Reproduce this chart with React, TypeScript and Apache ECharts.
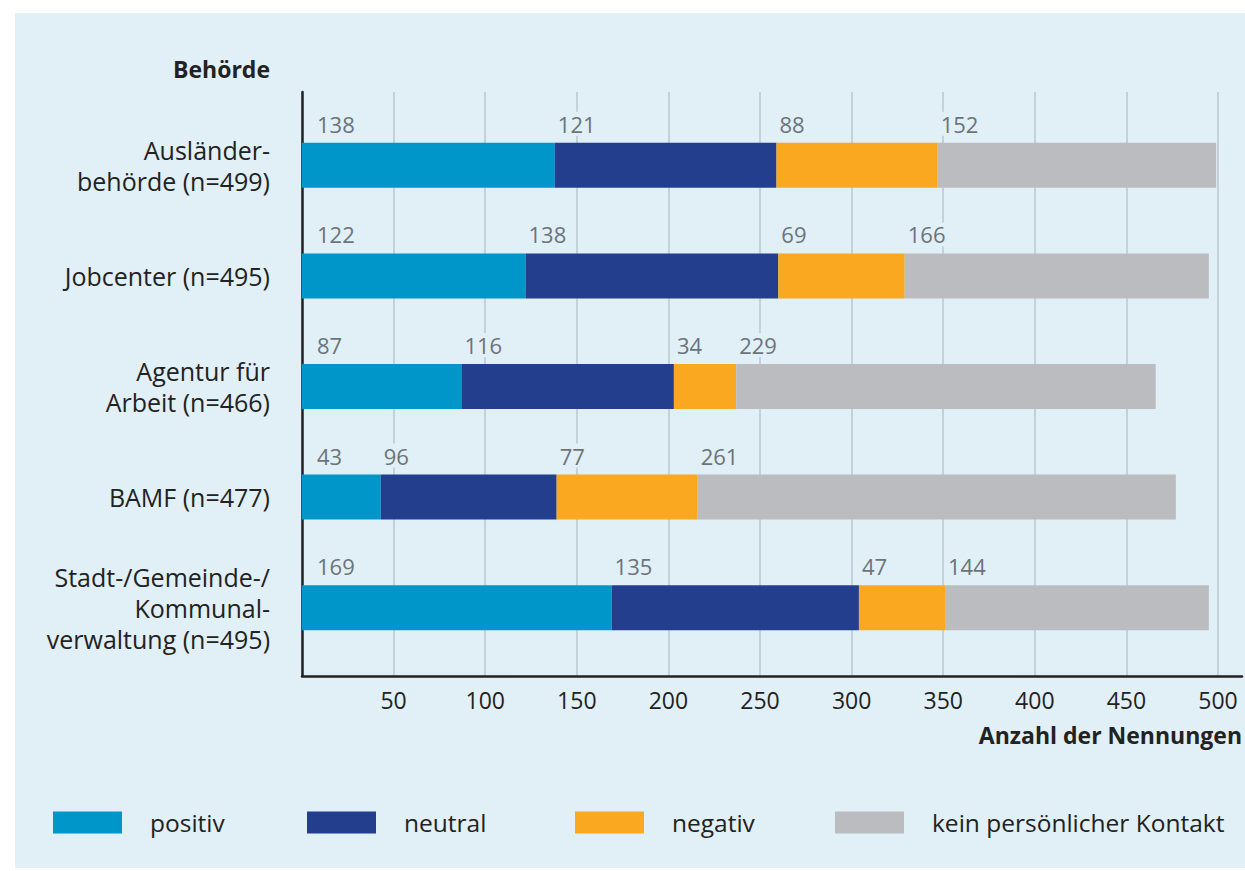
import React, { useEffect, useRef } from "react";
import * as echarts from "echarts";

const categories = [
  "Ausländer-\nbehörde (n=499)",
  "Jobcenter (n=495)",
  "Agentur für\nArbeit (n=466)",
  "BAMF (n=477)",
  "Stadt-/Gemeinde-/\nKommunal-\nverwaltung (n=495)",
];
const positiv = [138, 122, 87, 43, 169];
const neutral = [121, 138, 116, 96, 135];
const negativ = [88, 69, 34, 77, 47];
const keinKontakt = [152, 166, 229, 261, 144];
const seriesNames = ["positiv", "neutral", "negativ", "kein persönlicher Kontakt"];
const colors = ["#0096c9", "#243e8e", "#f9a81f", "#bbbcc0"];
const xMin = 0;
const xMax = 500;
const xInterval = 50;
const axisTitle = "Anzahl der Nennungen";
const categoryTitle = "Behörde";

const PANEL = "#e1eff7";
const FONT = "'Open Sans', 'Noto Sans', sans-serif";

export default function App() {
  const ref = useRef<HTMLDivElement>(null);
  useEffect(() => {
    document.body.style.margin = "0";
    if (!ref.current) return;
    const chart = echarts.init(ref.current, undefined, { renderer: "svg" });
    const data = [positiv, neutral, negativ, keinKontakt];
    const legendLefts = [53, 307, 575, 835];
    chart.setOption({
      animation: false,
      textStyle: { fontFamily: FONT },
      graphic: [
        {
          type: "rect",
          z: -10,
          silent: true,
          shape: { x: 15, y: 13, width: 1230, height: 855 },
          style: { fill: PANEL },
        },
      ],
      title: [
        {
          text: categoryTitle,
          right: 975,
          top: 57,
          padding: 0,
          textStyle: { fontFamily: FONT, fontSize: 23, fontWeight: "bold", color: "#222" },
        },
        {
          text: axisTitle,
          right: 3,
          top: 723,
          padding: 0,
          textStyle: { fontFamily: FONT, fontSize: 23, fontWeight: "bold", color: "#222" },
        },
      ],
      legend: seriesNames.map((n, i) => ({
        data: [n],
        left: legendLefts[i],
        top: 810,
        padding: 0,
        icon: "rect",
        itemWidth: 69,
        itemHeight: 22,
        textStyle: {
          fontFamily: FONT,
          fontSize: 24.5,
          color: "#222",
          padding: [0, 0, 0, 23],
        },
      })),
      grid: [
        { left: 302, top: 110, width: 916, height: 553 },
        { left: 302, top: 92, width: 916, height: 584 },
        { left: 302, top: 92, width: 940, height: 584 },
      ],
      xAxis: [
        { type: "value", gridIndex: 0, min: xMin, max: xMax, show: false },
        {
          type: "value",
          gridIndex: 1,
          min: xMin,
          max: xMax,
          interval: xInterval,
          axisLine: { show: false },
          axisTick: { show: false },
          splitLine: { show: true, lineStyle: { color: "#b9c7d0", width: 1.5 } },
          axisLabel: {
            margin: 12,
            fontFamily: FONT,
            fontSize: 23,
            color: "#222",
            formatter: (v: number) => (v === 0 ? "" : String(v)),
          },
        },
        {
          type: "value",
          gridIndex: 2,
          min: 0,
          max: 1,
          axisLine: { show: true, lineStyle: { color: "#222", width: 2.5 } },
          axisTick: { show: false },
          axisLabel: { show: false },
          splitLine: { show: false },
        },
      ],
      yAxis: [
        {
          type: "category",
          gridIndex: 0,
          data: categories,
          inverse: true,
          axisLine: { show: false },
          axisTick: { show: false },
          axisLabel: {
            margin: 32,
            fontFamily: FONT,
            fontSize: 25,
            lineHeight: 31,
            color: "#222",
            align: "right",
          },
        },
        { type: "value", gridIndex: 1, show: false },
        {
          type: "value",
          gridIndex: 2,
          min: 0,
          max: 1,
          axisLine: { show: true, lineStyle: { color: "#222", width: 2.5 } },
          axisTick: { show: false },
          axisLabel: { show: false },
          splitLine: { show: false },
        },
      ],
      series: seriesNames.map((n, i) => ({
        name: n,
        type: "bar",
        stack: "total",
        xAxisIndex: 0,
        yAxisIndex: 0,
        barWidth: 45,
        data: data[i],
        itemStyle: { color: colors[i] },
        label: {
          show: true,
          position: [i === 0 ? 12 : 0, -7],
          align: "left",
          verticalAlign: "bottom",
          fontFamily: FONT,
          fontSize: 22,
          color: "#6b747a",
          backgroundColor: PANEL,
          padding: [1, 3],
        },
      })),
    });
    return () => chart.dispose();
  }, []);
  return <div ref={ref} style={{ width: 1245, height: 871 }} />;
}
